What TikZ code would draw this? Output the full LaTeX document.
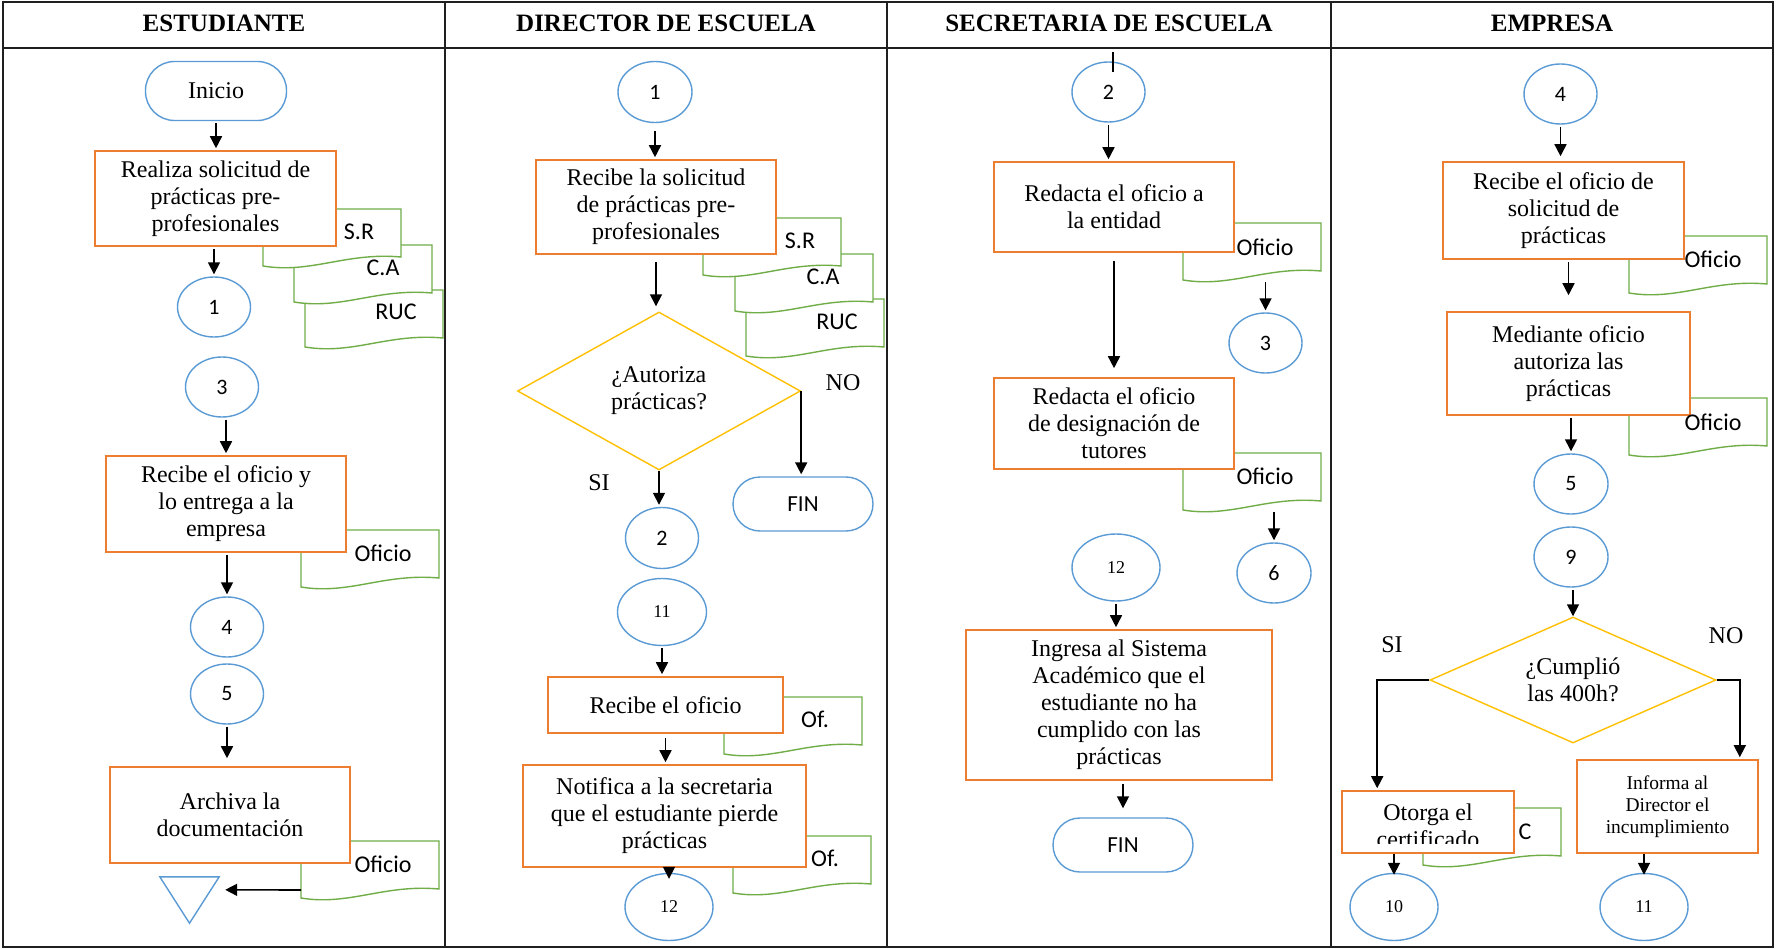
\documentclass[tikz,border=0pt]{standalone}
\usepackage{fontspec}
\setmainfont{Liberation Serif}
\setsansfont{Carlito}
\usetikzlibrary{shapes.geometric,arrows.meta,calc}

\definecolor{boxorange}{HTML}{ED7D31}
\definecolor{connblue}{HTML}{5B9BD5}
\definecolor{docgreen}{HTML}{70AD47}
\definecolor{decyellow}{HTML}{FFC000}

\tikzset{
  lane/.style={line width=2pt, draw=black!88},
  head/.style={font=\bfseries\fontsize{25}{28}\selectfont, anchor=base, inner sep=0pt},
  proc/.style={draw=boxorange, line width=1.6pt, fill=white, align=center, inner sep=0pt,
               font=\fontsize{24}{27}\selectfont},
  conn/.style={ellipse, draw=connblue, line width=1.4pt, fill=white, inner sep=0pt,
               minimum width=73pt, minimum height=60pt, font=\sffamily\fontsize{22}{24}\selectfont},
  connw/.style={conn, minimum width=88pt, minimum height=67pt, font=\fontsize{18}{20}\selectfont},
  term/.style={draw=connblue, line width=1.4pt, fill=white, inner sep=0pt,
               minimum width=140pt, minimum height=54pt, rounded corners=27pt,
               font=\sffamily\fontsize{23}{25}\selectfont},
  decision/.style={diamond, draw=decyellow, line width=1.4pt, fill=white, inner sep=0pt,
               align=center, font=\fontsize{24}{27}\selectfont},
  docbox/.style={inner sep=0pt, outer sep=0pt, minimum width=138pt, minimum height=57pt, anchor=north west},
  docframe/.style={draw=docgreen, line width=1.4pt, fill=white},
  doclabel/.style={font=\sffamily\fontsize{24}{26}\selectfont, inner sep=0pt},
  branch/.style={font=\fontsize{24}{26}\selectfont, anchor=base, inner sep=0pt},
  arr/.style={line width=1.6pt, -{Triangle[length=12pt,width=12pt]}, shorten >=2pt, shorten <=2pt},
  plain/.style={line width=1.6pt}
}

% document sheet with a wavy lower edge
\newcommand\docsheet[3]{%
  \node[docbox] (#1) at (#2,#3) {};
  \draw[docframe] (#1.south west) -- (#1.north west) -- (#1.north east)
    -- ($(#1.south east)+(0,-9)$)
    .. controls ($(#1.south west)+(83,-14)$) and ($(#1.south west)+(48,8)$) .. (#1.south west) -- cycle;
}

\begin{document}
\begin{tikzpicture}[x=1pt,y=-1pt]
\useasboundingbox (0,0) rectangle (1776,949);
\fill[white] (0,0) rectangle (1776,949);

% swimlanes
\draw[lane] (3,2) rectangle (1773,947);
\draw[lane] (3,48) -- (1773,48);
\foreach \x in {445,887,1331} \draw[lane] (\x,2) -- (\x,947);

\node[head] (h1) at (224,32) {ESTUDIANTE};
\node[head] (h2) at (666,32) {DIRECTOR DE ESCUELA};
\node[head] (h3) at (1109,32) {SECRETARIA DE ESCUELA};
\node[head] (h4) at (1552,32) {EMPRESA};

% document sheets (behind the process boxes)
\docsheet{dRUCa}{305}{290}
\docsheet{dCAa}{294}{245}
\docsheet{dSRa}{263}{209}
\docsheet{dOfa}{301}{530}
\docsheet{dOfb}{301}{841}
\docsheet{dRUCb}{746}{299}
\docsheet{dCAb}{735}{254}
\docsheet{dSRb}{703}{218}
\docsheet{dOfc}{724}{697}
\docsheet{dOfd}{733}{836}
\docsheet{dOfe}{1183}{223}
\docsheet{dOff}{1183}{453}
\docsheet{dOfg}{1629}{236}
\docsheet{dOfh}{1629}{398}
\docsheet{dCc}{1423}{808}

% ESTUDIANTE
\node[term, minimum width=141pt, minimum height=59pt, rounded corners=29pt,
      font=\fontsize{24}{26}\selectfont] (ini) at (216,91) {Inicio};
\node[proc, minimum width=241pt, minimum height=95pt] (p1) at (215.5,198.5)
  {Realiza solicitud de\\prácticas pre-\\profesionales};
\node[conn] (c1a) at (214,307) {1};
\node[conn] (c3a) at (222,387) {3};
\node[proc, minimum width=240pt, minimum height=96pt] (p2) at (226,504)
  {Recibe el oficio y\\lo entrega a la\\empresa};
\node[conn] (c4a) at (227,627) {4};
\node[conn] (c5a) at (227,694) {5};
\node[proc, minimum width=240pt, minimum height=96pt] (p3) at (230,815)
  {Archiva la\\documentación};
\node[inner sep=0pt, minimum width=59pt, minimum height=46pt] (arch) at (189.5,900) {};
\draw[draw=connblue, line width=1.4pt, line join=miter]
  (arch.north west) -- (arch.north east) -- (arch.south) -- cycle;

% DIRECTOR DE ESCUELA
\node[conn, minimum width=74pt, minimum height=61pt] (c1b) at (655,92) {1};
\node[proc, minimum width=240pt, minimum height=94pt] (p4) at (656,207)
  {Recibe la solicitud\\de prácticas pre-\\profesionales};
\node[decision, minimum width=283pt, minimum height=158pt, shape aspect=1.79] (q1) at (659,391)
  {¿Autoriza\\prácticas?};
\node[term] (fin1) at (803,504) {FIN};
\node[conn, minimum height=61pt] (c2b) at (662,538) {2};
\node[connw, minimum width=89pt] (c11b) at (662,612) {11};
\node[proc, minimum width=235pt, minimum height=56pt] (p5) at (665.5,705) {Recibe el oficio};
\node[proc, minimum width=283pt, minimum height=102pt] (p6) at (664.5,816)
  {Notifica a la secretaria\\que el estudiante pierde\\prácticas};
\node[connw] (c12b) at (669,907) {12};
\node[branch] (no1) at (843,390) {NO};
\node[branch] (si1) at (599,490) {SI};

% SECRETARIA DE ESCUELA
\node[conn] (c2c) at (1108.5,92) {2};
\node[proc, minimum width=240pt, minimum height=90pt] (p7) at (1114,207)
  {Redacta el oficio a\\la entidad};
\node[conn] (c3c) at (1265.5,343) {3};
\node[proc, minimum width=240pt, minimum height=91pt] (p8) at (1114,423.5)
  {Redacta el oficio\\de designación de\\tutores};
\node[conn, minimum width=74pt] (c6c) at (1274,573) {6};
\node[connw] (c12c) at (1116,567.5) {12};
\node[proc, minimum width=306pt, minimum height=150pt] (p9) at (1119,705)
  {Ingresa al Sistema\\Académico que el\\estudiante no ha\\cumplido con las\\prácticas};
\node[term] (fin2) at (1123,845) {FIN};
\coordinate (lanetop) at (1113,52);

% EMPRESA
\node[conn] (c4d) at (1560.5,94) {4};
\node[proc, minimum width=241pt, minimum height=97pt] (p10) at (1563.5,210.5)
  {Recibe el oficio de\\solicitud de\\prácticas};
\node[proc, minimum width=243pt, minimum height=103pt] (p11) at (1568.5,363.5)
  {Mediante oficio\\autoriza las\\prácticas};
\node[conn, minimum width=74pt] (c5d) at (1571,484) {5};
\node[conn, minimum width=74pt] (c9d) at (1571,557) {9};
\node[decision, minimum width=286pt, minimum height=126pt, shape aspect=2.27] (q2) at (1573,680)
  {¿Cumplió\\las 400h?};
\node[proc, minimum width=172pt, minimum height=62pt] (otorga) at (1428,822) {};
\begin{scope}
  \clip (1342,791) rectangle (1514,843);
  \node[align=center, inner sep=0pt, font=\fontsize{24}{27}\selectfont] (otorgaT) at (1428,826)
    {Otorga el\\certificado};
\end{scope}
\node[proc, minimum width=181pt, minimum height=93pt, font=\fontsize{19.5}{22}\selectfont] (informa)
  at (1667.5,806.5) {Informa al\\Director el\\incumplimiento};
\node[connw] (c10d) at (1394,907) {10};
\node[connw] (c11d) at (1644,907) {11};
\node[branch] (si2) at (1392,652) {SI};
\node[branch] (no2) at (1726,643) {NO};

% sheet labels
\node[doclabel] (tSRa) at (359,232) {S.R};
\node[doclabel] (tCAa) at (383,268) {C.A};
\node[doclabel] (tRUCa) at (396,312) {RUC};
\node[doclabel] (tOfa) at (383,553) {Oficio};
\node[doclabel] (tOfb) at (383,864) {Oficio};
\node[doclabel] (tSRb) at (800,241) {S.R};
\node[doclabel] (tCAb) at (823,277) {C.A};
\node[doclabel] (tRUCb) at (837,322) {RUC};
\node[doclabel] (tOfc) at (815,719) {Of.};
\node[doclabel] (tOfd) at (825,858) {Of.};
\node[doclabel] (tOfe) at (1265,247) {Oficio};
\node[doclabel] (tOff) at (1265,476) {Oficio};
\node[doclabel] (tOfg) at (1713,259) {Oficio};
\node[doclabel] (tOfh) at (1713,422) {Oficio};
\node[doclabel] (tCc) at (1525,832) {C};

% connectors: ESTUDIANTE
\draw[arr] (ini.south) -- (ini.south |- p1.north);
\draw[arr] (c1a.north |- p1.south) -- (c1a.north);
\draw[arr] (p2.north |- c3a.south) -- (p2.north);
\draw[arr] (c4a.north |- p2.south) -- (c4a.north);
\draw[arr, shorten >=8pt] (c5a.south) -- (c5a.south |- p3.north);
\draw[arr, shorten <=0pt, shorten >=0pt] ($(dOfb.south west)+(0,-8)$) -- ($(arch.north east)+(6,13)$);

% connectors: DIRECTOR DE ESCUELA
\draw[arr, shorten <=8pt] (c1b.south) -- (c1b.south |- p4.north);
\draw[arr, shorten <=7pt, shorten >=5pt] (p4.south) -- (p4.south |- q1.north);
\draw[arr, shorten <=0pt] (q1.east) -- (q1.east |- fin1.north);
\draw[arr, shorten <=0pt] (q1.south) -- (q1.south |- c2b.north);
\draw[arr] (c11b.south) -- (c11b.south |- p5.north);
\draw[arr, shorten <=4pt] (p5.south) -- (p5.south |- p6.north);
\draw[arr, shorten <=-4pt, shorten >=-6pt] (c12b.north |- p6.south) -- (c12b.north);

% connectors: SECRETARIA DE ESCUELA
\draw[plain] (lanetop) -- ($(lanetop |- c2c.north)+(0,11)$);
\draw[arr] (c2c.south) -- (c2c.south |- p7.north);
\draw[arr] (c3c.north |- dOfe.south) -- (c3c.north);
\draw[arr, shorten <=8pt, shorten >=9pt] (p7.south) -- (p7.south |- p8.north);
\draw[arr] (c6c.north |- dOff.south) -- (c6c.north);
\draw[arr] (c12c.south) -- (c12c.south |- p9.north);
\draw[arr, shorten <=3pt, shorten >=9pt] (fin2.north |- p9.south) -- (fin2.north);

% connectors: EMPRESA
\draw[arr, shorten >=5pt] (c4d.south) -- (c4d.south |- p10.north);
\draw[arr, shorten >=16pt] (p11.north |- p10.south) -- (p11.north);
\draw[arr] (c5d.north |- p11.south) -- (c5d.north);
\draw[arr, shorten >=0pt] (q2.north |- c9d.south) -- (q2.north);
\draw[arr, shorten <=0pt] (q2.west) -| ($(otorga.north west)+(36,0)$);
\draw[arr, shorten <=0pt] (q2.east) -| ($(informa.north east)+(-19,0)$);
\draw[arr, shorten <=0pt, shorten >=-2pt] (c10d.north |- otorga.south) -- (c10d.north);
\draw[arr, shorten <=0pt, shorten >=-2pt] (c11d.north |- informa.south) -- (c11d.north);
\end{tikzpicture}
\end{document}
